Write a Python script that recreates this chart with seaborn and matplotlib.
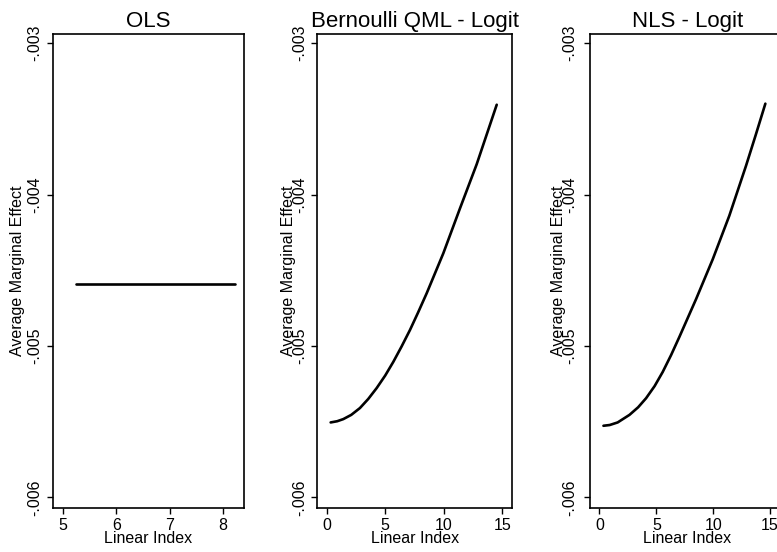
import numpy as np
import pandas as pd
import matplotlib
matplotlib.use("Agg")
import matplotlib.pyplot as plt
import seaborn as sns

# ---- data ----
ols_x = [5.24, 8.22]
ols_y = [-0.004591, -0.004591]

qml_x = [0.34, 0.9, 1.42, 2.1, 2.84, 3.55, 4.27, 5.0, 5.69, 6.4, 7.11, 7.8,
         8.54, 9.96, 11.38, 12.81, 14.52]
qml_y = [-0.005505, -0.005497, -0.005483, -0.005455, -0.005410, -0.005350,
         -0.005278, -0.005195, -0.005105, -0.005003, -0.004895, -0.004780,
         -0.004652, -0.004388, -0.004092, -0.003800, -0.003407]

nls_x = [0.35, 0.9, 1.6, 2.64, 3.4, 4.10, 4.85, 5.56, 6.3, 7.03, 8.50, 9.96,
         11.42, 12.89, 13.75, 14.59]
nls_y = [-0.005527, -0.005522, -0.005505, -0.005455, -0.005405, -0.005345,
         -0.005265, -0.005172, -0.005060, -0.004940, -0.004690, -0.004428,
         -0.004140, -0.003810, -0.003605, -0.003400]

titles = ["OLS", "Bernoulli QML - Logit", "NLS - Logit"]
y_ticks = [-0.006, -0.005, -0.004, -0.003]
y_ticklabels = ["-.006", "-.005", "-.004", "-.003"]
x_ticks = [[5, 6, 7, 8], [0, 5, 10, 15], [0, 5, 10, 15]]

sns.set_theme(style="white")
plt.rcParams['font.family'] = ['Liberation Sans', 'DejaVu Sans']
plt.rcParams['text.color'] = 'black'
plt.rcParams['axes.labelcolor'] = 'black'
plt.rcParams['xtick.color'] = 'black'
plt.rcParams['ytick.color'] = 'black'

W, H = 777, 552
fig = plt.figure(figsize=(W / 100, H / 100), dpi=100)

top_px, bot_px = 34, 508
panels = [
    dict(left=53, width=191, xlim=(4.81, 8.39), ylab_off=-35, tick_pad=4),
    dict(left=317.3, width=195, xlim=(-0.80, 15.85), ylab_off=-29, tick_pad=3),
    dict(left=589.8, width=195, xlim=(-0.85, 16.3), ylab_off=-31, tick_pad=5),
]
data = [(ols_x, ols_y), (qml_x, qml_y), (nls_x, nls_y)]

for i, (p, (xs, ys)) in enumerate(zip(panels, data)):
    ax = fig.add_axes([p["left"] / W, 1 - bot_px / H, p["width"] / W, (bot_px - top_px) / H])
    df = pd.DataFrame({"x": xs, "y": ys})
    sns.lineplot(data=df, x="x", y="y", ax=ax, color="black", linewidth=1.9,
                 sort=True, estimator=None, solid_joinstyle="round")
    ax.set_xlim(*p["xlim"])
    ax.set_ylim(-0.00607, -0.00294)
    ax.set_xticks(x_ticks[i])
    ax.set_xticklabels([str(v) for v in x_ticks[i]], fontsize=11.5)
    ax.set_yticks(y_ticks)
    ax.set_yticklabels(y_ticklabels, fontsize=11.5, rotation=90, va="center")
    ax.tick_params(axis="both", which="major", direction="out", length=4,
                   width=1.0, color="black", left=True, bottom=True,
                   labelcolor="black")
    ax.tick_params(axis="y", pad=p["tick_pad"])
    ax.tick_params(axis="x", pad=3)
    for s in ax.spines.values():
        s.set_color("black")
        s.set_linewidth(1.2)
    ax.set_xlabel("Linear Index", fontsize=11.5, labelpad=-1, color="black")
    ax.set_ylabel("Average Marginal Effect", fontsize=11.5, color="black")
    ax.yaxis.label.set_va("center")
    ax.yaxis.set_label_coords(p["ylab_off"] / p["width"], 0.5)
    ax.set_title(titles[i], fontsize=16, pad=5, color="black")
    ax.grid(False)

fig.savefig("out.png", dpi=100)
